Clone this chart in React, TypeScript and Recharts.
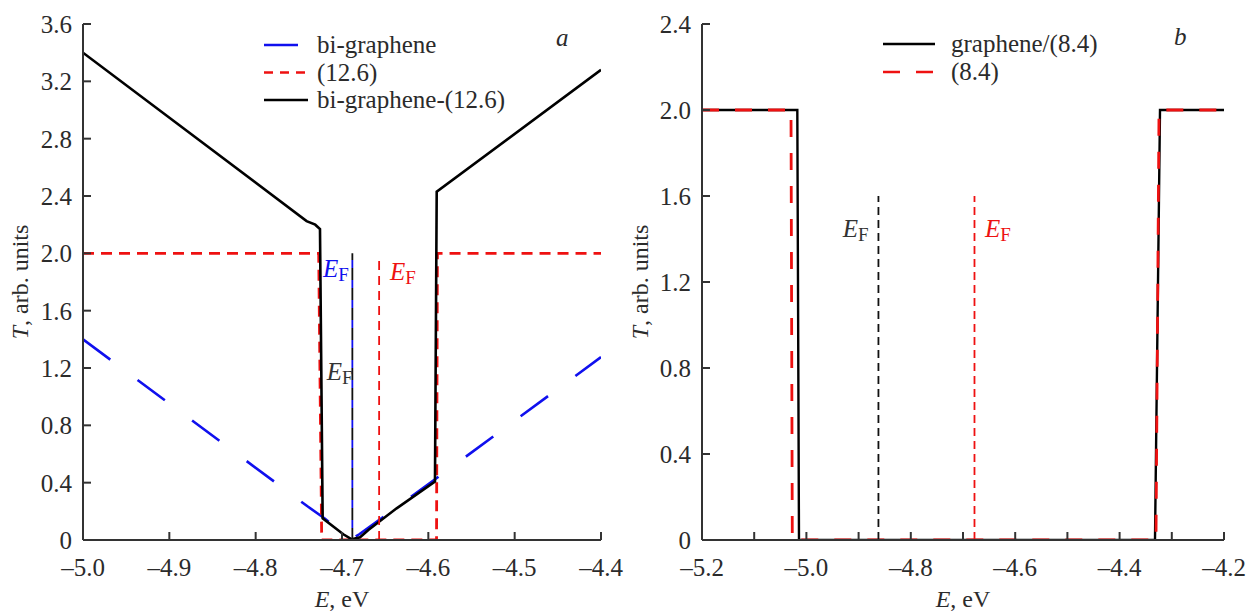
import {
  LineChart,
  Line,
  XAxis,
  YAxis,
  Legend,
  ReferenceDot,
} from 'recharts';

// panel a: bi-graphene / (12.6)
const biGrapheneE = [-5.0, -4.74, -4.72, -4.70, -4.69, -4.68, -4.65, -4.593, -4.4];
const biGrapheneT = [1.4, 0.235, 0.15, 0.05, 0.005, 0.04, 0.17, 0.42, 1.276];

const dot126E = [-5.0, -4.727, -4.7235, -4.5905, -4.5895, -4.4];
const dot126T = [2.0, 2.0, 0, 0, 2.0, 2.0];

const biDot126E = [-5.0, -4.741, -4.731, -4.7255, -4.7224, -4.6985, -4.6887, -4.6791, -4.6695, -4.6367, -4.5923, -4.5903, -4.4];
const biDot126T = [3.4, 2.225, 2.2, 2.17, 0.151, 0.04, 0.005, 0.019, 0.07, 0.221, 0.407, 2.43, 3.28];

const efBiE = -4.688;
const efDot126E = -4.657;
const efTopA = 2.0;

const ticksXA = [-5.0, -4.9, -4.8, -4.7, -4.6, -4.5, -4.4];
const ticksYA = [0, 0.4, 0.8, 1.2, 1.6, 2.0, 2.4, 2.8, 3.2, 3.6];

// panel b: graphene/(8.4)
const grDot84E = [-5.2, -5.0174, -5.0142, -4.3322, -4.3226, -4.2];
const grDot84T = [2.0, 2.0, 0, 0, 2.0, 2.0];

const dot84E = [-5.2, -5.0295, -5.027, -4.3303, -4.3245, -4.2];
const dot84T = [2.0, 2.0, 0, 0, 2.0, 2.0];

const efGrE = -4.862;
const efDot84E = -4.678;
const efTopB = 1.6;

const ticksXB = [-5.2, -5.1, -5.0, -4.9, -4.8, -4.7, -4.6, -4.5, -4.4, -4.3, -4.2];
const ticksYB = [0, 0.4, 0.8, 1.2, 1.6, 2.0, 2.4];

const toPoints = (xs: number[], ys: number[]) => xs.map((E, i) => ({ E, T: ys[i] }));
const vline = (E: number, top: number) => [{ E, T: 0 }, { E, T: top }];

const FONT = '"Liberation Serif", "Times New Roman", serif';
const AXIS = '#333';
const TXT = '#2b2b2b';
const serif = { fontFamily: FONT };

const fmtX = (v: number) => (v < 0 ? '\u2013' : '') + Math.abs(v).toFixed(1);
const fmtY = (v: number) => (v === 0 ? '0' : v.toFixed(1));
const fmtXB = (v: number) => {
  const k = Math.round(Math.abs(v) * 10);
  return k % 2 === 0 ? fmtX(v) : '';
};

const XTick = ({ x, y, payload, fmt }: any) => (
  <text x={x} y={y} dy="0.71em" textAnchor="middle" fill={TXT} fontSize={25} style={serif}>
    {fmt(payload.value)}
  </text>
);

const YTick = ({ x, y, payload }: any) => (
  <text x={x} y={y} dy="0.355em" textAnchor="end" fill={TXT} fontSize={25} style={serif}>
    {fmtY(payload.value)}
  </text>
);

const XLabel = ({ viewBox }: any) => (
  <text x={viewBox.x + viewBox.width / 2} y={viewBox.y + 67} textAnchor="middle" fill={TXT} fontSize={24} style={serif}>
    <tspan fontStyle="italic">E</tspan>, eV
  </text>
);

const YLabel = ({ viewBox }: any) => {
  const cx = viewBox.x + 28;
  const cy = viewBox.y + viewBox.height / 2;
  return (
    <text x={cx} y={cy} transform={`rotate(-90 ${cx} ${cy})`} textAnchor="middle" fill={TXT} fontSize={24} style={serif}>
      <tspan fontStyle="italic">T</tspan>, arb. units
    </text>
  );
};

const efLabel = (color: string) => (props: any) => (
  <text x={props.cx} y={props.cy} fill={color} fontSize={25} style={serif}>
    <tspan fontStyle="italic">E</tspan>
    <tspan fontSize={19} dy={4}>F</tspan>
  </text>
);

const panelLetter = (letter: string) => (props: any) => (
  <text x={props.cx} y={props.cy} fill={TXT} fontSize={25} fontStyle="italic" style={serif}>
    {letter}
  </text>
);

type LegendItem = { name: string; color: string; dash?: string };

const legendA: LegendItem[] = [
  { name: 'bi-graphene', color: '#1010ee', dash: '34 34' },
  { name: '(12.6)', color: '#ee1111', dash: '9 7' },
  { name: 'bi-graphene-(12.6)', color: '#000' },
];
const legendB: LegendItem[] = [
  { name: 'graphene/(8.4)', color: '#000' },
  { name: '(8.4)', color: '#ee1111', dash: '17 16' },
];

const LegendBox = ({ items, lineLen, gap, step }: { items: LegendItem[]; lineLen: number; gap: number; step: number }) => (
  <svg width={320} height={items.length * step + 10} style={{ display: 'block', overflow: 'visible' }}>
    {items.map((it, i) => {
      const y = 14 + i * step;
      return (
        <g key={it.name}>
          <line x1={0} x2={lineLen} y1={y} y2={y} stroke={it.color} strokeWidth={2.6} strokeDasharray={it.dash} />
          <text x={lineLen + gap} y={y + 8} fill={TXT} fontSize={25} style={serif}>
            {it.name}
          </text>
        </g>
      );
    })}
  </svg>
);

export default function App() {
  return (
    <div style={{ position: 'absolute', left: 0, top: 0, width: 1249, height: 613, background: '#fff', fontFamily: FONT }}>
      <div style={{ position: 'absolute', left: 0, top: 0 }}>
        <LineChart width={640} height={613} margin={{ top: 24, right: 39, left: 0, bottom: 0 }}>
          <XAxis
            dataKey="E"
            type="number"
            domain={[-5.0, -4.4]}
            ticks={ticksXA}
            allowDataOverflow
            height={73}
            tickSize={-8}
            tickMargin={26}
            stroke={AXIS}
            strokeWidth={2}
            tick={<XTick fmt={fmtX} />}
            label={<XLabel />}
          />
          <YAxis
            type="number"
            domain={[0, 3.6]}
            ticks={ticksYA}
            allowDataOverflow
            width={83}
            tickSize={-8}
            tickMargin={19}
            stroke={AXIS}
            strokeWidth={2}
            tick={<YTick />}
            label={<YLabel />}
          />
          <Legend
            layout="horizontal"
            verticalAlign="middle"
            align="center"
            wrapperStyle={{ left: 264, top: 31, width: 320 }}
            content={() => <LegendBox items={legendA} lineLen={44} gap={9} step={27.5} />}
          />
          <Line data={toPoints(biGrapheneE, biGrapheneT)} dataKey="T" name="bi-graphene" stroke="#1010ee" strokeWidth={2.6} strokeDasharray="34 34" dot={false} isAnimationActive={false} />
          <Line data={toPoints(dot126E, dot126T)} dataKey="T" name="(12.6)" stroke="#ee1111" strokeWidth={2.8} strokeDasharray="11 7" dot={false} isAnimationActive={false} />
          <Line data={toPoints(biDot126E, biDot126T)} dataKey="T" name="bi-graphene-(12.6)" stroke="#000" strokeWidth={2.6} dot={false} isAnimationActive={false} />
          <Line data={vline(efBiE, efTopA)} dataKey="T" stroke="#111" strokeWidth={1.8} strokeDasharray="12 8" dot={false} legendType="none" isAnimationActive={false} />
          <Line data={vline(efBiE, efTopA)} dataKey="T" stroke="#1010ee" strokeWidth={1.8} strokeDasharray="0 12 8 0" dot={false} legendType="none" isAnimationActive={false} />
          <Line data={vline(efDot126E, 1.97)} dataKey="T" stroke="#ee1111" strokeWidth={1.8} strokeDasharray="9 6" dot={false} legendType="none" isAnimationActive={false} />
          <ReferenceDot x={-4.722} y={1.835} r={0} shape={efLabel('#1010ee')} />
          <ReferenceDot x={-4.6444} y={1.814} r={0} shape={efLabel('#ee1111')} />
          <ReferenceDot x={-4.7178} y={1.116} r={0} shape={efLabel('#333')} />
          <ReferenceDot x={-4.452} y={3.447} r={0} shape={panelLetter('a')} />
        </LineChart>
      </div>
      <div style={{ position: 'absolute', left: 620, top: 0 }}>
        <LineChart width={629} height={613} margin={{ top: 24, right: 25, left: 0, bottom: 0 }}>
          <XAxis
            dataKey="E"
            type="number"
            domain={[-5.2, -4.2]}
            ticks={ticksXB}
            allowDataOverflow
            interval={0}
            height={73}
            tickSize={-8}
            tickMargin={26}
            stroke={AXIS}
            strokeWidth={2}
            tick={<XTick fmt={fmtXB} />}
            label={<XLabel />}
          />
          <YAxis
            type="number"
            domain={[0, 2.4]}
            ticks={ticksYB}
            allowDataOverflow
            width={82}
            tickSize={-8}
            tickMargin={19}
            stroke={AXIS}
            strokeWidth={2}
            tick={<YTick />}
            label={<YLabel />}
          />
          <Legend
            layout="horizontal"
            verticalAlign="middle"
            align="center"
            wrapperStyle={{ left: 263, top: 30, width: 320 }}
            content={() => <LegendBox items={legendB} lineLen={52} gap={16} step={28} />}
          />
          <Line data={toPoints(grDot84E, grDot84T)} dataKey="T" name="graphene/(8.4)" stroke="#000" strokeWidth={2.4} dot={false} isAnimationActive={false} />
          <Line data={toPoints(dot84E, dot84T)} dataKey="T" name="(8.4)" stroke="#ee1111" strokeWidth={2.8} strokeDasharray="17 16" dot={false} isAnimationActive={false} />
          <Line data={vline(efGrE, efTopB)} dataKey="T" stroke="#111" strokeWidth={1.8} strokeDasharray="8 5" dot={false} legendType="none" isAnimationActive={false} />
          <Line data={vline(efDot84E, efTopB)} dataKey="T" stroke="#ee1111" strokeWidth={1.8} strokeDasharray="8 5" dot={false} legendType="none" isAnimationActive={false} />
          <ReferenceDot x={-4.9305} y={1.411} r={0} shape={efLabel('#333')} />
          <ReferenceDot x={-4.6579} y={1.411} r={0} shape={efLabel('#ee1111')} />
          <ReferenceDot x={-4.296} y={2.302} r={0} shape={panelLetter('b')} />
        </LineChart>
      </div>
    </div>
  );
}
